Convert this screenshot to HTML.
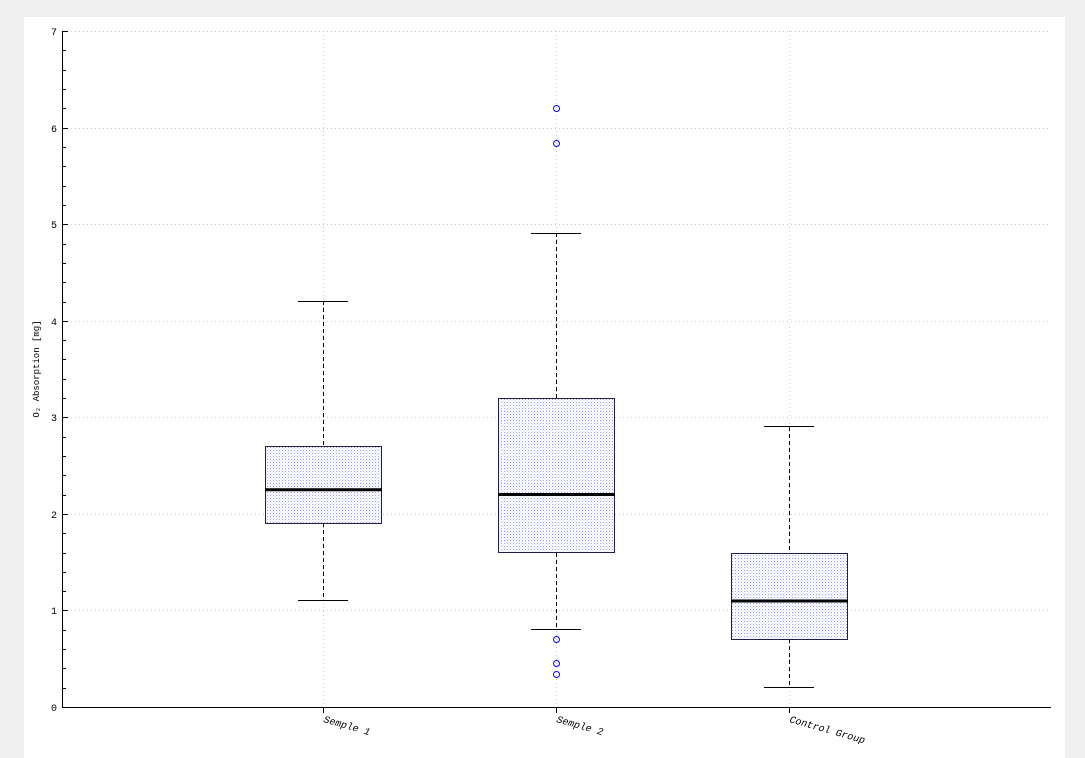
<!DOCTYPE html>
<html><head><style>
html,body{margin:0;padding:0;background:#f0f0f0;width:1085px;height:758px;overflow:hidden}
svg{position:absolute;left:0;top:0}
text{font-family:"Liberation Mono","DejaVu Sans Mono",monospace;font-size:10px;fill:#000}
</style></head><body>
<svg width="1085" height="758" xmlns="http://www.w3.org/2000/svg">
<defs>
<pattern id="dots" width="3" height="3" patternUnits="userSpaceOnUse">
<rect width="3" height="3" fill="#fff"/>
<rect x="0" y="0" width="1" height="1" fill="#9a9af0"/>
<rect x="1.5" y="1.5" width="1" height="1" fill="#c8c8f8"/>
</pattern>
</defs>
<rect x="24" y="17" width="1041" height="741" fill="#fff"/>
<g stroke="#c8c8c8" stroke-dasharray="1,3" stroke-width="1">
<line x1="63" x2="1051" y1="31.5" y2="31.5"/>
<line x1="63" x2="1051" y1="128.5" y2="128.5"/>
<line x1="63" x2="1051" y1="224.5" y2="224.5"/>
<line x1="63" x2="1051" y1="321.5" y2="321.5"/>
<line x1="63" x2="1051" y1="417.5" y2="417.5"/>
<line x1="63" x2="1051" y1="514.5" y2="514.5"/>
<line x1="63" x2="1051" y1="610.5" y2="610.5"/>
<line x1="323.5" x2="323.5" y1="31" y2="707"/>
<line x1="556.5" x2="556.5" y1="31" y2="707"/>
<line x1="789.5" x2="789.5" y1="31" y2="707"/>
</g>
<!-- boxes -->
<g stroke="#000" stroke-width="1">
<line x1="323.5" x2="323.5" y1="301" y2="446" stroke-dasharray="4,3"/>
<line x1="323.5" x2="323.5" y1="523" y2="601" stroke-dasharray="4,3"/>
<line x1="298" x2="348" y1="301.5" y2="301.5"/>
<line x1="298" x2="348" y1="600.5" y2="600.5"/>
<rect x="265.5" y="446.5" width="116" height="77" fill="url(#dots)" stroke="#20204a"/>
<line x1="265" x2="382" y1="489.7" y2="489.7" stroke-width="3"/>

<line x1="556.5" x2="556.5" y1="233" y2="398" stroke-dasharray="4,3"/>
<line x1="556.5" x2="556.5" y1="553" y2="630" stroke-dasharray="4,3"/>
<line x1="531" x2="581" y1="233.5" y2="233.5"/>
<line x1="531" x2="581" y1="629.5" y2="629.5"/>
<rect x="498.5" y="398.5" width="116" height="154" fill="url(#dots)" stroke="#20204a"/>
<line x1="498" x2="615" y1="494.5" y2="494.5" stroke-width="3"/>

<line x1="789.5" x2="789.5" y1="427" y2="553" stroke-dasharray="4,3"/>
<line x1="789.5" x2="789.5" y1="639" y2="688" stroke-dasharray="4,3"/>
<line x1="764" x2="814" y1="426.5" y2="426.5"/>
<line x1="764" x2="814" y1="687.5" y2="687.5"/>
<rect x="731.5" y="553.5" width="116" height="86" fill="url(#dots)" stroke="#20204a"/>
<line x1="731" x2="848" y1="601" y2="601" stroke-width="3"/>
</g>
<g fill="none" stroke="#0000ff" stroke-width="1">
<circle cx="556.5" cy="108.5" r="3"/>
<circle cx="556.5" cy="143.5" r="3"/>
<circle cx="556.5" cy="639.5" r="3"/>
<circle cx="556.5" cy="663.5" r="3"/>
<circle cx="556.5" cy="674.5" r="3"/>
</g>
<!-- axes -->
<g stroke="#000" stroke-width="1">
<line x1="62.5" x2="62.5" y1="31" y2="708"/>
<line x1="62" x2="1051" y1="707.5" y2="707.5"/>
<line x1="62" x2="68" y1="31.5" y2="31.5"/>
<line x1="62" x2="68" y1="128.5" y2="128.5"/>
<line x1="62" x2="68" y1="224.5" y2="224.5"/>
<line x1="62" x2="68" y1="321.5" y2="321.5"/>
<line x1="62" x2="68" y1="417.5" y2="417.5"/>
<line x1="62" x2="68" y1="514.5" y2="514.5"/>
<line x1="62" x2="68" y1="610.5" y2="610.5"/>
<line x1="323.5" x2="323.5" y1="707" y2="713"/>
<line x1="556.5" x2="556.5" y1="707" y2="713"/>
<line x1="789.5" x2="789.5" y1="707" y2="713"/>
</g>
<path id="minor" stroke="#000" d="M62 50.5h4M62 70.5h4M62 89.5h4M62 108.5h4M62 147.5h4M62 166.5h4M62 186.5h4M62 205.5h4M62 244.5h4M62 263.5h4M62 282.5h4M62 302.5h4M62 340.5h4M62 359.5h4M62 379.5h4M62 398.5h4M62 437.5h4M62 456.5h4M62 475.5h4M62 495.5h4M62 533.5h4M62 553.5h4M62 572.5h4M62 591.5h4M62 630.5h4M62 649.5h4M62 668.5h4M62 688.5h4"/>
<g text-anchor="end">
<text x="57" y="35">7</text>
<text x="57" y="132">6</text>
<text x="57" y="228">5</text>
<text x="57" y="325">4</text>
<text x="57" y="421">3</text>
<text x="57" y="518">2</text>
<text x="57" y="614">1</text>
<text x="57" y="711">0</text>
</g>
<text transform="translate(39,369) rotate(-90)" text-anchor="middle" style="font-size:9px">O₂ Absorption [mg]</text>
<text transform="translate(323,722) rotate(16)" style="font-style:italic">Semple 1</text>
<text transform="translate(556,722) rotate(16)" style="font-style:italic">Semple 2</text>
<text transform="translate(789,722) rotate(16)" style="font-style:italic">Control Group</text>
</svg>
</body></html>
